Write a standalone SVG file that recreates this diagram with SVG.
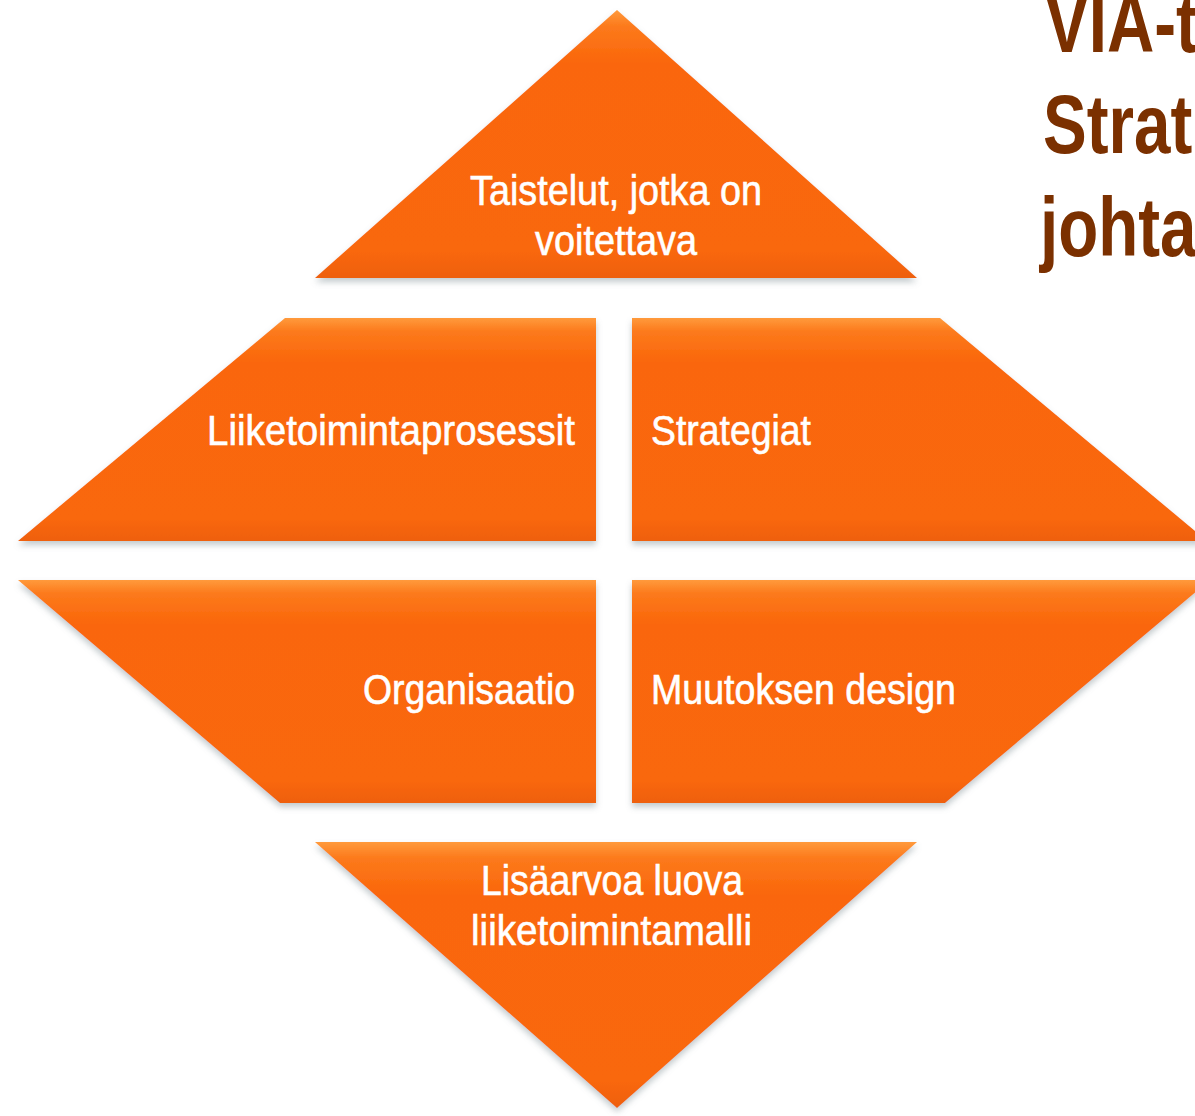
<svg xmlns="http://www.w3.org/2000/svg" width="1195" height="1116" viewBox="0 0 1195 1116">
<defs>
<linearGradient id="g" x1="0" y1="0" x2="0" y2="1">
<stop offset="0" stop-color="#FF9A3C"/>
<stop offset="0.06" stop-color="#FC7A1C"/>
<stop offset="0.2" stop-color="#FA660A"/>
<stop offset="0.9" stop-color="#F9670B"/>
<stop offset="1" stop-color="#EE6008"/>
</linearGradient>
<filter id="sh" x="-10%" y="-10%" width="120%" height="120%">
<feGaussianBlur in="SourceAlpha" stdDeviation="3"/>
<feOffset dx="0" dy="4" result="b"/>
<feFlood flood-color="#7a8a90" flood-opacity="0.45"/>
<feComposite in2="b" operator="in" result="s"/>
<feMerge><feMergeNode in="s"/><feMergeNode in="SourceGraphic"/></feMerge>
</filter>
<style>
.p{fill:url(#g);filter:url(#sh)}
.t{font-family:"Liberation Sans",Arial,sans-serif;font-size:42px;fill:#fff;stroke:#fff;stroke-width:0.6}
.h{font-family:"Liberation Sans",Arial,sans-serif;font-size:84px;font-weight:bold;fill:#7B3000}
</style>
</defs>
<rect width="1195" height="1116" fill="#fff"/>
<g id="title">
<text class="h" transform="translate(1045,52) scale(0.78,1)">VIA-t</text>
<text class="h" transform="translate(1043,153) scale(0.78,1)">Strat</text>
<text class="h" transform="translate(1040,256) scale(0.78,1)">johta</text>
</g>
<g id="connectors"></g>
<g id="top">
<polygon class="p" points="617,10 917,278 315,278"/>
<text class="t" x="470" y="205" textLength="292" lengthAdjust="spacingAndGlyphs">Taistelut, jotka on</text>
<text class="t" x="535" y="255" textLength="162" lengthAdjust="spacingAndGlyphs">voitettava</text>
</g>
<g id="mid-left">
<polygon class="p" points="285,318 596,318 596,541 18,541"/>
<text class="t" x="207" y="445" textLength="368" lengthAdjust="spacingAndGlyphs">Liiketoimintaprosessit</text>
</g>
<g id="mid-right">
<polygon class="p" points="632,318 940,318 1207,541 632,541"/>
<text class="t" x="651" y="445" textLength="160" lengthAdjust="spacingAndGlyphs">Strategiat</text>
</g>
<g id="low-left">
<polygon class="p" points="18,580 596,580 596,803 280,803"/>
<text class="t" x="363" y="704" textLength="212" lengthAdjust="spacingAndGlyphs">Organisaatio</text>
</g>
<g id="low-right">
<polygon class="p" points="632,580 1210,580 945,803 632,803"/>
<text class="t" x="651" y="704" textLength="305" lengthAdjust="spacingAndGlyphs">Muutoksen design</text>
</g>
<g id="bottom">
<polygon class="p" points="315,842 917,842 617,1108"/>
<text class="t" x="481" y="895" textLength="262" lengthAdjust="spacingAndGlyphs">Lisäarvoa luova</text>
<text class="t" x="471" y="945" textLength="281" lengthAdjust="spacingAndGlyphs">liiketoimintamalli</text>
</g>
</svg>
